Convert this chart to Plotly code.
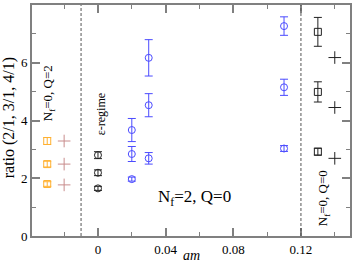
import plotly.graph_objects as go

# --- data ---
nf0q2_sq_x = [-0.03, -0.03, -0.03]
nf0q2_sq_y = [3.29, 2.49, 1.80]
nf0q2_sq_e = [0.12, 0.10, 0.08]
nf0q2_pl_x = [-0.02, -0.02, -0.02]
nf0q2_pl_y = [3.29, 2.49, 1.77]

eps_x = [0.0, 0.0, 0.0]
eps_y = [2.80, 2.19, 1.65]
eps_e = [0.12, 0.10, 0.07]

nf2_x = [0.02, 0.02, 0.02, 0.03, 0.03, 0.03, 0.11, 0.11, 0.11]
nf2_y = [3.67, 2.84, 1.97, 6.17, 4.53, 2.69, 7.27, 5.15, 3.03]
nf2_e = [0.40, 0.26, 0.07, 0.63, 0.40, 0.20, 0.32, 0.28, 0.10]

nf0q0_sq_x = [0.13, 0.13, 0.13]
nf0q0_sq_y = [7.07, 4.99, 2.92]
nf0q0_sq_e = [0.50, 0.35, 0.12]
nf0q0_pl_x = [0.14, 0.14, 0.14]
nf0q0_pl_y = [6.18, 4.45, 2.69]

divider_x = [-0.01, 0.12]

x_tickvals = [0, 0.04, 0.08, 0.12]
x_ticktext = ["0", "0.04", "0.08", "0.12"]
y_tickvals = [0, 2, 4, 6, 8]

FONT = "Liberation Serif, Times New Roman, serif"
BLUE = "#4b4bff"
ORANGE = "#ffb030"
PINK = "#c88c8c"
BLACK = "#222222"

fig = go.Figure()

def err_trace(x, y, e, color, symbol, size):
    return go.Scatter(
        x=x, y=y, mode="markers",
        marker=dict(symbol=symbol, size=size, color=color, line=dict(color=color, width=1)),
        error_y=dict(type="data", array=e, visible=True, color=color, thickness=1, width=4),
        showlegend=False, hoverinfo="skip",
    )

fig.add_trace(err_trace(nf0q2_sq_x, nf0q2_sq_y, nf0q2_sq_e, ORANGE, "square-open", 7))
fig.add_trace(go.Scatter(x=nf0q2_pl_x, y=nf0q2_pl_y, mode="markers",
                         marker=dict(symbol="cross-thin-open", size=9, color=PINK, line=dict(color=PINK, width=1)),
                         showlegend=False, hoverinfo="skip"))
fig.add_trace(err_trace(eps_x, eps_y, eps_e, BLACK, "circle-open", 7))
fig.add_trace(err_trace(nf2_x, nf2_y, nf2_e, BLUE, "circle-open", 7))
fig.add_trace(err_trace(nf0q0_sq_x, nf0q0_sq_y, nf0q0_sq_e, BLACK, "square-open", 7))
fig.add_trace(go.Scatter(x=nf0q0_pl_x, y=nf0q0_pl_y, mode="markers",
                         marker=dict(symbol="cross-thin-open", size=9, color=BLACK, line=dict(color=BLACK, width=1)),
                         showlegend=False, hoverinfo="skip"))

for xv in divider_x:
    fig.add_shape(type="line", x0=xv, x1=xv, y0=0, y1=1, xref="x", yref="paper",
                  line=dict(color="#555555", width=1, dash="3px,2px"))

fig.add_annotation(x=-0.0295, y=4.95, xref="x", yref="y", text="N<sub>f</sub>=0, Q=2",
                   textangle=-90, showarrow=False, font=dict(family=FONT, size=13, color="black"))
fig.add_annotation(x=0.0015, y=4.2, xref="x", yref="y", text="ε-regime",
                   textangle=-90, showarrow=False, font=dict(family=FONT, size=12, color="black"))
fig.add_annotation(x=0.057, y=1.3, xref="x", yref="y", text="N<sub>f</sub>=2, Q=0",
                   showarrow=False, font=dict(family=FONT, size=17, color="black"))
fig.add_annotation(x=0.1335, y=1.3, xref="x", yref="y", text="N<sub>f</sub>=0, Q=0",
                   textangle=-90, showarrow=False, font=dict(family=FONT, size=13, color="black"))

fig.add_annotation(x=0.5, y=-0.085, xref="paper", yref="paper", text="<i>am</i>",
                   showarrow=False, yanchor="middle",
                   font=dict(family=FONT, size=14, color="black"))
fig.add_annotation(x=-0.072, y=0.51, xref="paper", yref="paper", text="ratio (2/1, 3/1, 4/1)",
                   showarrow=False, textangle=-90, xanchor="center",
                   font=dict(family=FONT, size=16, color="black"))

axis_common = dict(showline=True, linecolor="#808080", linewidth=2, mirror="ticks",
                   ticks="inside", tickcolor="#808080", tickwidth=2, ticklen=8,
                   showgrid=False, zeroline=False, automargin=False,
                   tickfont=dict(family=FONT, size=13, color="black"))

fig.update_xaxes(range=[-0.039, 0.149], tickvals=x_tickvals, ticktext=x_ticktext,
                 minor=dict(ticks="inside", ticklen=4, tickcolor="#808080", tickwidth=1,
                            tickvals=[-0.02, 0.02, 0.06, 0.10, 0.14]),
                 **axis_common)
fig.update_yaxes(range=[0, 8], tickvals=y_tickvals,
                 minor=dict(ticks="inside", ticklen=4, tickcolor="#808080", tickwidth=1,
                            tickvals=[1, 3, 5, 7]),
                 **axis_common)

fig.update_layout(width=354, height=262, margin=dict(l=32, r=4, t=5, b=26),
                  plot_bgcolor="white", paper_bgcolor="white")

fig.write_html("out.html", config={"displayModeBar": False},
               post_script="document.body.style.margin='0';document.body.style.overflow='hidden';")
